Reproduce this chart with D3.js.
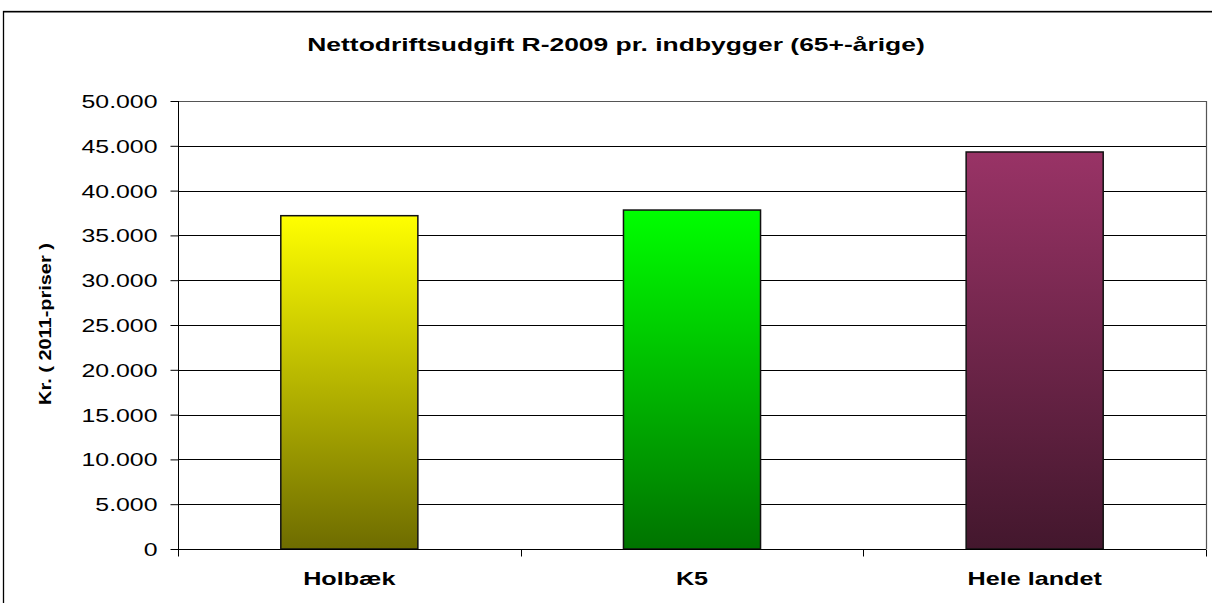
<!DOCTYPE html>
<html><head><meta charset="utf-8">
<script src="https://cdn.jsdelivr.net/npm/d3@7"></script>
<style>html,body{margin:0;padding:0;background:#fff;}svg{display:block;}</style>
</head><body>
<svg id="c" width="1212" height="603"></svg>
<script>
const categories = ["Holbæk", "K5", "Hele landet"];
const values = [37200, 37830, 44310];
const topColors = ["#FFFF00", "#00FF00", "#993366"];
const bottomColors = ["#6E6C00", "#007300", "#43172D"];
const tickValues = [0, 5000, 10000, 15000, 20000, 25000, 30000, 35000, 40000, 45000, 50000];
const tickLabels = ["0", "5.000", "10.000", "15.000", "20.000", "25.000", "30.000", "35.000", "40.000", "45.000", "50.000"];
const titleText = "Nettodriftsudgift R-2009 pr. indbygger (65+-årige)";
const yLabel = "Kr. ( 2011-priser )";

const svg = d3.select("#c");
const font = "'Liberation Sans', Arial, sans-serif";
const m = {left: 178, right: 1206, top: 101, bottom: 549};

// outer frame
svg.append("rect").attr("x", 3.5).attr("y", 12.5).attr("width", 1220).attr("height", 620)
  .attr("fill", "none").attr("stroke", "#999").attr("stroke-width", 1);
svg.append("rect").attr("x", 3.5).attr("y", 11.5).attr("width", 1220).attr("height", 620)
  .attr("fill", "none").attr("stroke", "#000").attr("stroke-width", 1.3);

const x = d3.scaleBand().domain(categories).range([m.left, m.right]).paddingInner(0.6).paddingOuter(0.3);
const xb = d3.scaleBand().domain(categories).range([m.left, m.right]).padding(0);
const y = d3.scaleLinear().domain([0, 50000]).range([m.bottom, m.top]);

// gridlines
svg.append("g").selectAll("line").data(tickValues).join("line")
  .attr("x1", m.left).attr("x2", m.right)
  .attr("y1", d => Math.round(y(d)) + 0.5).attr("y2", d => Math.round(y(d)) + 0.5)
  .attr("stroke", d => d === 50000 ? "#555" : "#000").attr("stroke-width", 1);
// right border
svg.append("line").attr("x1", m.right + 0.5).attr("x2", m.right + 0.5).attr("y1", m.top).attr("y2", m.bottom)
  .attr("stroke", "#555").attr("stroke-width", 1.2);

// gradients
const defs = svg.append("defs");
categories.forEach((c, i) => {
  const g = defs.append("linearGradient").attr("id", "g" + i).attr("x1", 0).attr("y1", 0).attr("x2", 0).attr("y2", 1);
  g.append("stop").attr("offset", "0%").attr("stop-color", topColors[i]);
  g.append("stop").attr("offset", "100%").attr("stop-color", bottomColors[i]);
});

// bars
svg.append("g").selectAll("rect").data(categories).join("rect")
  .attr("x", d => x(d)).attr("width", x.bandwidth())
  .attr("y", (d, i) => y(values[i])).attr("height", (d, i) => y(0) - y(values[i]))
  .attr("fill", (d, i) => `url(#g${i})`)
  .attr("stroke", "#111").attr("stroke-width", 1.5);

// y axis
const yAxis = d3.axisLeft(y).tickValues(tickValues).tickSize(8).tickFormat((d, i) => tickLabels[i]);
const ya = svg.append("g").attr("transform", `translate(${m.left + 0.5},0)`).call(yAxis);
ya.select(".domain").attr("stroke", "#000").attr("d", `M-0,${m.top}V${m.bottom + 6}`);
ya.selectAll(".tick line").attr("stroke", "#000");
ya.selectAll(".tick text").remove();
ya.selectAll(".tick").append("text")
  .attr("font-family", font).attr("font-size", 18).attr("fill", "#000")
  .attr("text-anchor", "end").attr("dy", "0.36em")
  .attr("transform", "translate(-21,0) scale(1.38,1)")
  .text((d, i) => tickLabels[i]);

// x axis
const xAxis = d3.axisBottom(xb).tickSize(0).tickFormat("");
const xa = svg.append("g").attr("transform", `translate(0,${m.bottom + 0.5})`).call(xAxis);
xa.select(".domain").attr("stroke", "#000").attr("d", `M${m.left},0H${m.right}`);
xa.selectAll(".tick").remove();
const bounds = [m.left].concat(categories.map(c => xb(c) + xb.bandwidth()));
xa.selectAll("line.sep").data(bounds).join("line").attr("class", "sep")
  .attr("x1", d => Math.round(d) + 0.5).attr("x2", d => Math.round(d) + 0.5)
  .attr("y1", 0).attr("y2", 7).attr("stroke", "#000");

// category labels
svg.append("g").selectAll("text").data(categories).join("text")
  .attr("font-family", font).attr("font-weight", "bold").attr("font-size", 18)
  .attr("text-anchor", "middle")
  .attr("transform", d => `translate(${xb(d) + xb.bandwidth() / 2},585) scale(1.4,1)`)
  .text(d => d);

// title
const t = svg.append("text").attr("font-family", font).attr("font-weight", "bold").attr("font-size", 17.5)
  .attr("text-anchor", "middle").text(titleText);
const tw = t.node().getComputedTextLength();
t.attr("transform", `translate(616,51) scale(${618 / tw},1)`);

// y label
const yl = svg.append("text").attr("font-family", font).attr("font-weight", "bold").attr("font-size", 17)
  .attr("text-anchor", "middle").text(yLabel);
const yw = yl.node().getComputedTextLength();
yl.attr("transform", `translate(51,324) rotate(-90) scale(${162 / yw},1)`);
</script>
</body></html>
